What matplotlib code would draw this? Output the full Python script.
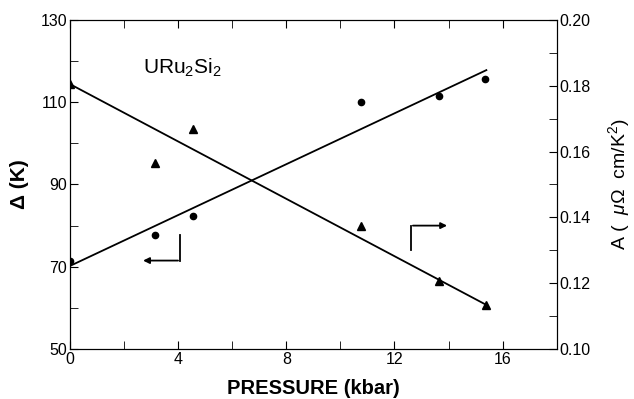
import numpy as np
import matplotlib
matplotlib.use("Agg")
import matplotlib.pyplot as plt

plt.rcParams['font.family'] = ['Liberation Sans', 'DejaVu Sans']
plt.rcParams['mathtext.fontset'] = 'custom'
plt.rcParams['mathtext.rm'] = 'Liberation Sans'
plt.rcParams['mathtext.it'] = 'Liberation Sans:italic'

# gap (left axis) vs pressure -- circles
p_gap = [0.0, 3.15, 4.55, 10.75, 13.65, 15.35]
gap = [71.5, 77.6, 82.4, 110.1, 111.4, 115.7]
gap_fit_p = [0.0, 15.4]
gap_fit = [70.2, 117.8]

# A coefficient (right axis) vs pressure -- triangles
p_A = [0.0, 3.15, 4.55, 10.75, 13.65, 15.4]
A = [0.1805, 0.1564, 0.1670, 0.1375, 0.1208, 0.1134]
A_fit_p = [0.0, 15.4]
A_fit = [0.1805, 0.1134]

fig = plt.figure(figsize=(6.34, 3.99), dpi=100)
ax = fig.add_axes([0.1104, 0.1253, 0.7676, 0.8247])
ax2 = ax.twinx()

ax.plot(p_gap, gap, 'o', color='black', markersize=4.5)
ax.plot(gap_fit_p, gap_fit, '-', color='black', linewidth=1.3)
ax2.plot(p_A, A, '^', color='black', markersize=5.5)
ax2.plot(A_fit_p, A_fit, '-', color='black', linewidth=1.3)

# L-shaped arrows indicating axes
ax.plot([4.07, 4.07], [77.8, 71.5], color='black', linewidth=1.3)
ax.annotate('', xy=(2.6, 71.5), xytext=(4.1, 71.5),
            arrowprops=dict(arrowstyle='-|>', color='black', lw=1.3, mutation_scale=9))
ax.plot([12.62, 12.62], [74.1, 80.0], color='black', linewidth=1.3)
ax.annotate('', xy=(14.05, 80.0), xytext=(12.58, 80.0),
            arrowprops=dict(arrowstyle='-|>', color='black', lw=1.3, mutation_scale=9))

ax.text(2.7, 118.3, r'URu$_2$Si$_2$', fontsize=15, ha='left', va='center')

ax.set_xlim(0, 18)
ax.set_ylim(50, 130)
ax2.set_ylim(0.10, 0.20)
ax.set_xticks([0, 4, 8, 12, 16])
ax.set_xticks(np.arange(0, 19, 2), minor=True)
ax.set_yticks([50, 70, 90, 110, 130])
ax.set_yticks(np.arange(50, 131, 10), minor=True)
ax2.set_yticks([0.10, 0.12, 0.14, 0.16, 0.18, 0.20])
ax2.set_yticks(np.arange(0.10, 0.201, 0.01), minor=True)
ax2.set_yticklabels(['0.10', '0.12', '0.14', '0.16', '0.18', '0.20'])

ax.tick_params(axis='both', which='both', direction='in', labelsize=11.5, pad=2)
ax.tick_params(axis='x', which='both', top=True)
ax.tick_params(which='major', length=6)
ax.tick_params(which='minor', length=6)
ax2.tick_params(axis='y', which='both', direction='in', length=6, labelsize=11.5, pad=2)

ax.set_xlabel('PRESSURE (kbar)', fontsize=14.5, fontweight='bold', labelpad=9)
ax.set_ylabel('Δ (K)', fontsize=15, fontweight='bold', labelpad=8)
ax2.set_ylabel(r'A (  $\mu\Omega$  cm/K$^2$)', fontsize=14, labelpad=11)

fig.savefig('out.png', dpi=100)
